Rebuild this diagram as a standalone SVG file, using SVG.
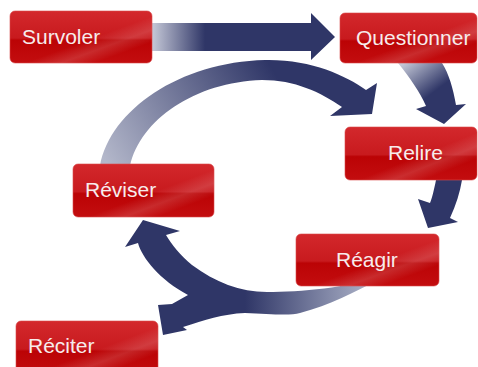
<svg xmlns="http://www.w3.org/2000/svg" width="478" height="367" viewBox="0 0 478 367">
<defs>
<linearGradient id="red" x1="0" y1="0" x2="0" y2="1">
<stop offset="0" stop-color="#d3282c"/>
<stop offset="0.52" stop-color="#c81a1e"/>
<stop offset="0.56" stop-color="#bb0305"/>
<stop offset="1" stop-color="#c30d0f"/>
</linearGradient>
<linearGradient id="shine" x1="0" y1="0" x2="1" y2="1">
<stop offset="0" stop-color="#fff" stop-opacity="0"/>
<stop offset="0.55" stop-color="#fff" stop-opacity="0"/>
<stop offset="0.68" stop-color="#fff" stop-opacity="0.14"/>
<stop offset="0.8" stop-color="#fff" stop-opacity="0"/>
<stop offset="1" stop-color="#fff" stop-opacity="0"/>
</linearGradient>
<linearGradient id="gTop" gradientUnits="userSpaceOnUse" x1="152" y1="0" x2="205" y2="0">
<stop offset="0" stop-color="#c6c9d8"/>
<stop offset="1" stop-color="#2f3667"/>
</linearGradient>
<linearGradient id="gArc" gradientUnits="userSpaceOnUse" x1="105" y1="160" x2="268" y2="62">
<stop offset="0" stop-color="#b3b7ca"/>
<stop offset="1" stop-color="#2f3667"/>
</linearGradient>
<linearGradient id="gQ" gradientUnits="userSpaceOnUse" x1="405" y1="62" x2="430" y2="95">
<stop offset="0" stop-color="#c4c8d7"/>
<stop offset="1" stop-color="#2f3667"/>
</linearGradient>
<linearGradient id="gBot" gradientUnits="userSpaceOnUse" x1="368" y1="0" x2="245" y2="0">
<stop offset="0" stop-color="#aab0c6"/>
<stop offset="1" stop-color="#2f3667"/>
</linearGradient>
<style>
.box{fill:url(#red);stroke:#d9494c;stroke-width:0.6}
.gl{fill:url(#shine)}
.lbl{font-family:"Liberation Sans",Arial,sans-serif;font-size:21px;fill:#f7ecec}
.nav{fill:#2f3667}
</style>
</defs>
<g id="connectors">
<path d="M152,23 L311,23 L311,13 L335,37 L311,60 L311,51 L152,51 Z" fill="url(#gTop)"/>
<path d="M100,166 C110,110 180,62 265,60 C310,59 345,75 366,90 L377,83 L372,114 L330,116 L342,107 C320,92 295,80 262,80 C195,82 140,120 130,166 Z" fill="url(#gArc)"/>
<path d="M398,63 C410,78 420,92 426,106 L416,109 L444,124 L466,104 L456,105 C453,88 449,74 442,63 Z" fill="url(#gQ)"/>
<path d="M436,180 C434,190 432,198 430,203 L418,199 L428,228 L458,222 L450,218 C456,205 460,192 462,180 Z" class="nav"/>
<path d="M378,276 C350,288 300,292 267,292 C240,292 215,282 192,265 C180,255 172,245 166,235 L180,231 L143,220 L125,247 L138,243 C142,258 160,280 188,295 L172,304 L158,305 L163,335 L187,330 L183,327 C205,320 222,314 245,313 C270,314 290,316 300,313 C330,305 355,292 378,280 Z" fill="url(#gBot)"/>
</g>
<g id="survoler">
<rect class="box" x="10" y="11" width="142" height="52" rx="5"/>
<rect class="gl" x="10" y="11" width="142" height="52" rx="5"/>
<text class="lbl" x="22" y="44">Survoler</text>
</g>
<g id="questionner">
<rect class="box" x="340" y="13" width="137" height="50" rx="5"/>
<rect class="gl" x="340" y="13" width="137" height="50" rx="5"/>
<text class="lbl" x="356" y="45">Questionner</text>
</g>
<g id="relire">
<rect class="box" x="345" y="127" width="132" height="53" rx="5"/>
<rect class="gl" x="345" y="127" width="132" height="53" rx="5"/>
<text class="lbl" x="388" y="160">Relire</text>
</g>
<g id="reviser">
<rect class="box" x="73" y="164" width="141" height="53" rx="5"/>
<rect class="gl" x="73" y="164" width="141" height="53" rx="5"/>
<text class="lbl" x="85" y="197">Réviser</text>
</g>
<g id="reagir">
<rect class="box" x="296" y="234" width="143" height="52" rx="5"/>
<rect class="gl" x="296" y="234" width="143" height="52" rx="5"/>
<text class="lbl" x="336" y="267">Réagir</text>
</g>
<g id="reciter">
<rect class="box" x="16" y="321" width="142" height="54" rx="5"/>
<rect class="gl" x="16" y="321" width="142" height="54" rx="5"/>
<text class="lbl" x="28" y="353">Réciter</text>
</g>
</svg>
